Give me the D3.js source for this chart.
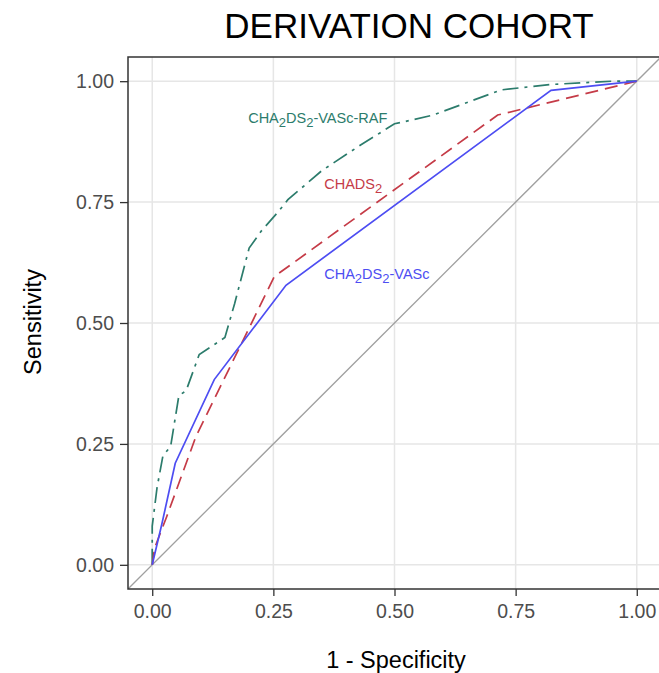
<!DOCTYPE html>
<html>
<head>
<meta charset="utf-8">
<script src="https://cdn.jsdelivr.net/npm/d3@7"></script>
<style>
  body { margin: 0; background: #fff; }
  text { font-family: "Liberation Sans", Arial, sans-serif; }
</style>
</head>
<body>
<svg id="chart"></svg>
<script>
// ROC curves: [1 - specificity, sensitivity]
const vascRaf = [[0, 0], [0, 0.08], [0.01, 0.16], [0.022, 0.225], [0.038, 0.245], [0.055, 0.35],
  [0.07, 0.36], [0.097, 0.435], [0.12, 0.45], [0.15, 0.47], [0.17, 0.54], [0.2, 0.655],
  [0.225, 0.69], [0.26, 0.73], [0.28, 0.755], [0.35, 0.815], [0.43, 0.868], [0.47, 0.893],
  [0.5, 0.912], [0.515, 0.915], [0.58, 0.93], [0.72, 0.982], [0.82, 0.993], [0.95, 1], [1, 1]];
const chads = [[0, 0], [0.005, 0.035], [0.03, 0.1], [0.09, 0.265], [0.252, 0.596], [0.713, 0.93], [1, 1]];
const vasc = [[0, 0], [0.02, 0.085], [0.0475, 0.21], [0.128, 0.383], [0.276, 0.578], [0.823, 0.981], [1, 1]];

const ticks = [0, 0.25, 0.5, 0.75, 1];

// label anchors (left edge, vertical middle) in data units
const labelPos = [
  { name: "raf", x: 0.198, y: 0.924 },
  { name: "chads", x: 0.355, y: 0.787 },
  { name: "vasc", x: 0.355, y: 0.601 }
];

const W = 659, H = 673;
const margin = { top: 57, right: -2, bottom: 84, left: 128 };
const width = W - margin.left - margin.right,
      height = H - margin.top - margin.bottom;

const svg = d3.select("#chart").attr("width", W).attr("height", H);
const g = svg.append("g").attr("transform", `translate(${margin.left},${margin.top})`);

const x = d3.scaleLinear().domain([-0.05, 1.05]).range([0, width]);
const y = d3.scaleLinear().domain([-0.05, 1.05]).range([height, 0]);

svg.append("defs").append("clipPath").attr("id", "clip")
  .append("rect").attr("width", width).attr("height", height);

// grid
g.append("g").selectAll("line").data(ticks).join("line")
  .attr("x1", d => x(d)).attr("x2", d => x(d)).attr("y1", 0).attr("y2", height)
  .attr("stroke", "#e6e6e6").attr("stroke-width", 1.5);
g.append("g").selectAll("line").data(ticks).join("line")
  .attr("y1", d => y(d)).attr("y2", d => y(d)).attr("x1", 0).attr("x2", width)
  .attr("stroke", "#e6e6e6").attr("stroke-width", 1.5);

const plot = g.append("g").attr("clip-path", "url(#clip)");

// reference diagonal
plot.append("line")
  .attr("x1", x(-0.05)).attr("y1", y(-0.05)).attr("x2", x(1.05)).attr("y2", y(1.05))
  .attr("stroke", "#a0a0a0").attr("stroke-width", 1.3);

const line = d3.line().x(d => x(d[0])).y(d => y(d[1]));

plot.append("path").datum(vascRaf).attr("d", line)
  .attr("fill", "none").attr("stroke", "#2c7c6c").attr("stroke-width", 1.7)
  .attr("stroke-dasharray", "16,6,3,6");
plot.append("path").datum(chads).attr("d", line)
  .attr("fill", "none").attr("stroke", "#c53b47").attr("stroke-width", 1.7)
  .attr("stroke-dasharray", "13,7");
plot.append("path").datum(vasc).attr("d", line)
  .attr("fill", "none").attr("stroke", "#4d4df2").attr("stroke-width", 1.7);

// labels with subscripts
function label(p, parts, color) {
  const t = g.append("text")
    .attr("x", x(p.x)).attr("y", y(p.y) + 5)
    .attr("fill", color).style("font-size", "14.5px");
  let shift = 0;
  parts.forEach(s => {
    const sub = s === "2";
    const target = sub ? 4 : 0;
    const sp = t.append("tspan").attr("dy", target - shift).text(s);
    if (sub) sp.style("font-size", "13px");
    shift = target;
  });
}
label(labelPos[0], ["CHA", "2", "DS", "2", "-VASc-RAF"], "#2c7c6c");
label(labelPos[1], ["CHADS", "2"], "#c53b47");
label(labelPos[2], ["CHA", "2", "DS", "2", "-VASc"], "#4d4df2");

// panel border
g.append("rect").attr("width", width).attr("height", height)
  .attr("fill", "none").attr("stroke", "#333").attr("stroke-width", 1.5);

// axes
const fmt = d3.format(".2f");
const xAxis = g.append("g").attr("transform", `translate(0,${height})`)
  .call(d3.axisBottom(x).tickValues(ticks).tickFormat(fmt).tickSize(7).tickPadding(8));
const yAxis = g.append("g")
  .call(d3.axisLeft(y).tickValues(ticks).tickFormat(fmt).tickSize(8).tickPadding(6));
[xAxis, yAxis].forEach(a => {
  a.select(".domain").remove();
  a.selectAll(".tick line").attr("stroke", "#333").attr("stroke-width", 1.3);
  a.selectAll(".tick text").attr("fill", "#4d4d4d")
    .style("font-size", "19.5px").style("font-family", "'Liberation Sans', Arial, sans-serif");
});

// titles
svg.append("text").attr("x", 409).attr("y", 38).attr("text-anchor", "middle")
  .style("font-size", "35px").attr("fill", "#000").text("DERIVATION COHORT");
svg.append("text").attr("x", 396).attr("y", 668).attr("text-anchor", "middle")
  .style("font-size", "23.5px").attr("fill", "#000").text("1 - Specificity");
svg.append("text").attr("transform", "translate(41,322) rotate(-90)").attr("text-anchor", "middle")
  .style("font-size", "23.5px").attr("fill", "#000").text("Sensitivity");
</script>
</body>
</html>
